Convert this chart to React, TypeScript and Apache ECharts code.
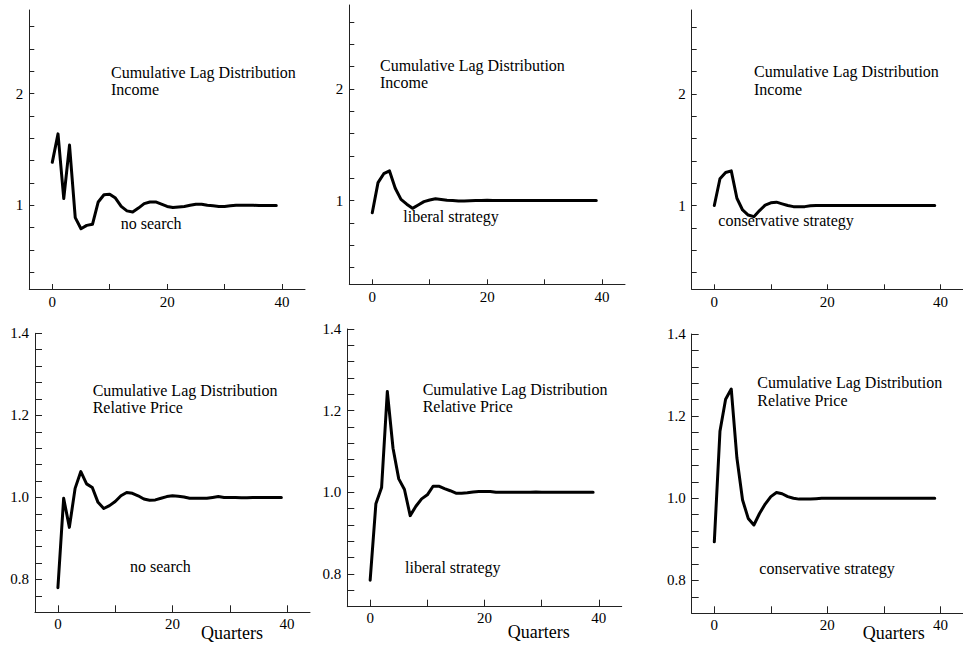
import React, { useEffect, useRef } from "react";
import * as echarts from "echarts";

const quarters = [0,1,2,3,4,5,6,7,8,9,10,11,12,13,14,15,16,17,18,19,20,21,22,23,24,25,26,27,28,29,30,31,32,33,34,35,36,37,38,39];

const incomeNoSearch = [1.385,1.64,1.06,1.54,0.89,0.79,0.82,0.83,1.03,1.095,1.1,1.065,0.99,0.95,0.94,0.975,1.015,1.03,1.03,1.01,0.99,0.98,0.985,0.99,1.0,1.01,1.01,1.0,0.995,0.99,0.99,0.995,1.0,1.0,1.0,1.0,0.998,0.998,0.998,0.998];
const incomeLiberal = [0.89,1.16,1.24,1.265,1.11,1.01,0.967,0.93,0.96,0.99,1.005,1.015,1.01,1.003,1.0,0.995,0.995,0.997,1.0,1.0,1.003,1.0,1.0,1.0,1.0,1.0,1.0,1.0,1.0,1.0,1.0,1.0,1.0,1.0,1.0,1.0,1.0,1.0,1.0,1.0];
const incomeConservative = [1.0,1.24,1.295,1.31,1.065,0.96,0.915,0.9,0.955,1.003,1.024,1.03,1.015,1.0,0.99,0.988,0.99,0.997,1.0,1.0,1.0,1.0,1.0,1.0,1.0,1.0,1.0,1.0,1.0,1.0,1.0,1.0,1.0,1.0,1.0,1.0,1.0,1.0,1.0,1.0];
const priceNoSearch = [0.78,0.998,0.927,1.022,1.063,1.033,1.024,0.988,0.973,0.98,0.99,1.004,1.012,1.01,1.004,0.996,0.993,0.994,0.998,1.002,1.004,1.003,1.001,0.998,0.998,0.998,0.998,1.0,1.002,1.0,1.0,1.0,0.999,0.999,1.0,1.0,1.0,1.0,1.0,1.0];
const priceLiberal = [0.785,0.972,1.012,1.247,1.108,1.033,1.007,0.943,0.966,0.984,0.994,1.015,1.015,1.009,1.004,0.998,0.998,0.999,1.001,1.002,1.002,1.002,1.0,1.0,1.0,1.0,1.0,1.0,1.0,1.001,1.0,1.0,1.0,1.0,1.0,1.0,1.0,1.0,1.0,1.0];
const priceConservative = [0.894,1.163,1.241,1.266,1.098,0.996,0.951,0.935,0.963,0.986,1.004,1.014,1.011,1.004,1.0,0.998,0.998,0.998,0.999,1.0,1.0,1.0,1.0,1.0,1.0,1.0,1.0,1.0,1.0,1.0,1.0,1.0,1.0,1.0,1.0,1.0,1.0,1.0,1.0,1.0];

const xTicks = [0, 10, 20, 30, 40];
const xLabels = [0, 20, 40];
const incomeTicks = [0.4,0.6,0.8,1.0,1.2,1.4,1.6,1.8,2.0,2.2,2.4,2.6];
const incomeLabels = [1, 2];
const priceTicks = [0.76,0.8,0.84,0.88,0.92,0.96,1.0,1.04,1.08,1.12,1.16,1.2,1.24,1.28,1.32,1.36,1.4];
const priceLabels = [0.8, 1.0, 1.2, 1.4];

const titleLine1 = "Cumulative Lag Distribution";
const incomeTitle = "Income";
const priceTitle = "Relative Price";
const strategies = ["no search", "liberal strategy", "conservative strategy"];
const xAxisName = "Quarters";

const FONT = "Liberation Serif";

export default function App() {
  const ref = useRef<HTMLDivElement>(null);
  useEffect(() => {
    document.body.style.margin = "0";
    const chart = echarts.init(ref.current!, null, { renderer: "svg" });

    const grids = [
      { left: 29.3, top: 10, width: 275.7, height: 279 },
      { left: 349.3, top: 5, width: 275.7, height: 279.3 },
      { left: 691.7, top: 10, width: 276.3, height: 279.3 },
      { left: 35, top: 333.3, width: 275, height: 279 },
      { left: 347.3, top: 329, width: 274.4, height: 277.7 },
      { left: 691.7, top: 334, width: 276, height: 279.3 },
    ];
    const seriesData = [incomeNoSearch, incomeLiberal, incomeConservative, priceNoSearch, priceLiberal, priceConservative];

    const axisLine = { show: true, onZero: false, lineStyle: { color: "#222", width: 1 } };

    const xAxes = grids.map((_, i) => ({
      type: "value",
      gridIndex: i,
      min: -4,
      max: 44,
      axisLine,
      splitLine: { show: false },
      axisTick: { show: true, inside: true, length: i < 3 ? 5 : 7, customValues: xTicks, lineStyle: { color: "#222" } },
      axisLabel: {
        customValues: xLabels,
        color: "#000",
        fontFamily: FONT,
        fontSize: 15,
        margin: i < 3 ? 5 : 4,
        formatter: (v: number) => String(Math.round(v)),
      },
    }));

    const yAxes = grids.map((_, i) => {
      const income = i < 3;
      return {
        type: "value",
        gridIndex: i,
        min: income ? 0.25 : 0.72,
        max: income ? 2.75 : 1.4,
        axisLine,
        splitLine: { show: false },
        axisTick: {
          show: true,
          inside: true,
          length: income ? 5 : 7,
          customValues: income ? incomeTicks : priceTicks,
          lineStyle: { color: "#222" },
        },
        axisLabel: {
          customValues: income ? incomeLabels : priceLabels,
          color: "#000",
          fontFamily: FONT,
          fontSize: 15,
          margin: 6,
          formatter: (v: number) => (income ? String(Math.round(v)) : v.toFixed(1)),
        },
      };
    });

    const series = seriesData.map((d, i) => ({
      type: "line",
      xAxisIndex: i,
      yAxisIndex: i,
      data: quarters.map((q, k) => [q, d[k]]),
      showSymbol: false,
      symbol: "none",
      lineStyle: { color: "#000", width: 3, cap: "round", join: "round" },
      silent: true,
    }));

    const txt = (text: string, x: number, y: number, size = 16) => ({
      type: "text",
      x,
      y,
      silent: true,
      style: {
        text,
        fill: "#000",
        fontFamily: FONT,
        fontSize: size,
        verticalAlign: "middle",
        align: "left",
      },
    });

    const annotations = [
      txt(titleLine1, 111, 72), txt(incomeTitle, 111, 89), txt(strategies[0], 120.7, 223),
      txt(titleLine1, 380, 65.7), txt(incomeTitle, 380, 82.7), txt(strategies[1], 403.3, 216),
      txt(titleLine1, 754, 71.7), txt(incomeTitle, 754, 89.3), txt(strategies[2], 718.3, 220.7),
      txt(titleLine1, 92.7, 390), txt(priceTitle, 92.7, 407.7), txt(strategies[0], 130, 566.7),
      txt(titleLine1, 422.7, 389.3), txt(priceTitle, 422.7, 406.7), txt(strategies[1], 405, 567.3),
      txt(titleLine1, 757.3, 382.7), txt(priceTitle, 757.3, 400), txt(strategies[2], 759.3, 568.3),
      txt(xAxisName, 201, 632.7, 18), txt(xAxisName, 507.7, 631.7, 18), txt(xAxisName, 862.7, 632.7, 18),
    ];

    chart.setOption({
      animation: false,
      backgroundColor: "#fff",
      grid: grids.map((g) => ({ ...g, containLabel: false })),
      xAxis: xAxes,
      yAxis: yAxes,
      series,
      graphic: annotations,
    });
    return () => chart.dispose();
  }, []);
  return <div ref={ref} style={{ width: 963, height: 646 }} />;
}
